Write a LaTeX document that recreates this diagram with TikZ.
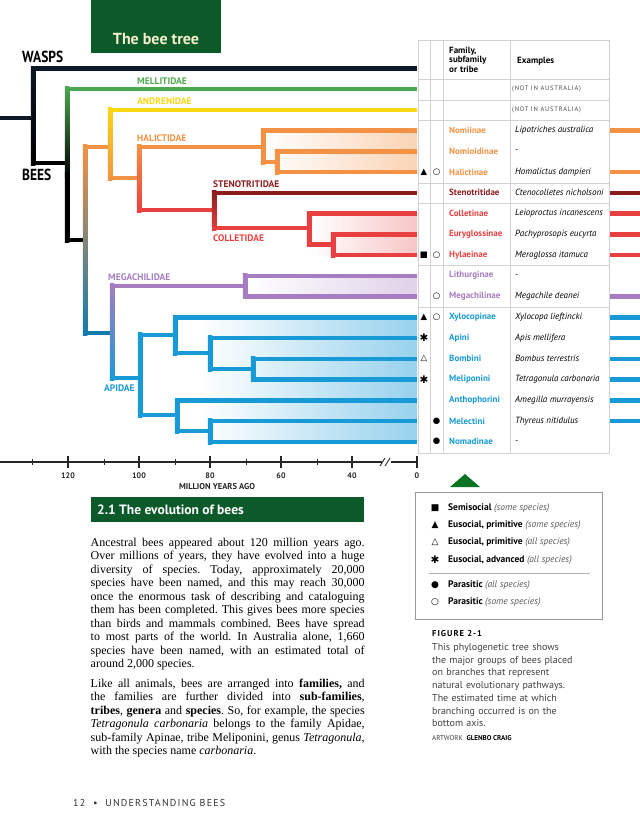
\documentclass[tikz,border=0pt]{standalone}
\usepackage{fontspec}
\setmainfont{Liberation Serif}
\setsansfont{PT Sans}
\newfontfamily\condfont[FakeStretch=0.84]{PT Sans}
\newfontfamily\symfont{DejaVu Sans}
\newfontfamily\spacedfont[LetterSpace=12]{PT Sans}
\usepackage{xcolor}
\definecolor{waspnavy}{RGB}{14,24,38}
\definecolor{mellgreen}{RGB}{76,168,80}
\definecolor{andyellow}{RGB}{250,214,20}
\definecolor{halorange}{RGB}{243,146,68}
\definecolor{stenred}{RGB}{140,28,30}
\definecolor{colred}{RGB}{232,64,64}
\definecolor{megpurple}{RGB}{165,125,192}
\definecolor{apiblue}{RGB}{24,154,214}
\definecolor{beegreen}{RGB}{12,90,42}
\definecolor{titlecream}{RGB}{244,240,204}
\definecolor{gridgray}{RGB}{210,210,210}
\usepackage{tikz}
\usetikzlibrary{positioning}
\frenchspacing

\begin{document}
\begin{tikzpicture}[x=1pt, y=-1pt, line join=miter,
  branch/.style={line width=4.5pt},
  cladelabel/.style={font=\sffamily\bfseries\fontsize{9.5}{10}\selectfont, anchor=west, inner sep=0pt},
  famlabel/.style={font=\sffamily\bfseries\fontsize{9}{10}\selectfont, anchor=west, inner sep=0pt},
  exlabel/.style={font=\sffamily\itshape\fontsize{9}{10}\selectfont, anchor=west, inner sep=0pt},
  symb/.style={font=\symfont\fontsize{8.5}{8}\selectfont, inner sep=0pt},
  star/.style={font=\symfont\fontsize{10.5}{10}\selectfont, inner sep=0pt},
  gridline/.style={draw=gridgray, line width=0.6pt},
  legtext/.style={font=\sffamily\fontsize{9.5}{10}\selectfont, anchor=west, inner sep=0pt},
  ticklabel/.style={font=\sffamily\bfseries\fontsize{8}{8}\selectfont, inner sep=0pt, text=black!85}]
  \useasboundingbox (0,0) rectangle (640,833);

  % title tab
  \fill[beegreen] (91,0) rectangle (221,53);
  \node[font=\sffamily\bfseries\fontsize{16}{16}\selectfont, text=titlecream, inner sep=0pt] (title) at (156,39) {The bee tree};
  \node[font=\condfont\bfseries\fontsize{16}{16}\selectfont, anchor=west, inner sep=0pt] (wasps) at (22,57) {WASPS};
  \node[font=\condfont\bfseries\fontsize{16}{16}\selectfont, anchor=west, inner sep=0pt] (bees) at (22,175) {BEES};

  % shaded clades
  \shade[left color=white, right color=halorange!40] (263,130.5) rectangle (417,172);
  \shade[left color=white, right color=colred!30] (309,213.5) rectangle (417,255);
  \shade[left color=white, right color=megpurple!35] (245,275.75) rectangle (417,296.5);
  \shade[left color=white, right color=apiblue!45] (200,317.25) rectangle (417,441.75);

  % horizontal branches
  \foreach \xa/\xb/\yy/\bcol in {0/33/118/waspnavy, 33/417/68.25/waspnavy, 33/67/163/black,
      67/417/89/mellgreen, 67/85/240/black, 85/110/147/halorange, 110/417/109.75/andyellow,
      110/139/178/halorange, 139/263/147/halorange, 263/417/130.5/halorange, 263/277/162/halorange,
      277/417/151.25/halorange, 277/417/172/halorange,
      139/214/210/colred, 214/417/192.75/stenred, 214/309/228/colred, 309/417/213.5/colred,
      309/333/244.6/colred, 333/417/234.25/colred, 333/417/255/colred,
      85/112/333/apiblue!80!black, 112/245/286/megpurple, 245/417/275.75/megpurple, 245/417/296.5/megpurple,
      112/140/378/apiblue, 140/175/335/apiblue, 175/417/317.25/apiblue, 175/210/353/apiblue,
      210/417/338/apiblue, 210/253/369/apiblue, 253/417/358.75/apiblue, 253/417/379.5/apiblue,
      140/177/415/apiblue, 177/417/400.25/apiblue, 177/210/431/apiblue, 210/417/421/apiblue,
      210/417/441.75/apiblue}
    \draw[branch, draw=\bcol] (\xa,\yy) -- (\xb,\yy);

  % vertical branches
  \foreach \xx/\ya/\yb/\tcol/\bcol in {33/68.25/163/waspnavy/black, 67/89/175/mellgreen/black,
      67/175/240/black/black, 110/109.75/178/andyellow/halorange, 139/147/210/halorange/colred,
      263/130.5/162/halorange/halorange, 277/151.25/172/halorange/halorange,
      214/192.75/228/stenred/colred, 309/213.5/244.6/colred/colred, 333/234.25/255/colred/colred,
      112/286/378/megpurple/apiblue, 245/275.75/296.5/megpurple/megpurple,
      140/335/415/apiblue/apiblue, 175/317.25/353/apiblue/apiblue, 210/338/369/apiblue/apiblue,
      253/358.75/379.5/apiblue/apiblue, 177/400.25/431/apiblue/apiblue, 210/421/441.75/apiblue/apiblue}
    \shade[top color=\tcol, bottom color=\bcol] (\xx-2.25,\ya-2.25) rectangle (\xx+2.25,\yb+2.25);
  \shade[top color=halorange, middle color=black, bottom color=apiblue!80!black] (82.75,144.75) rectangle (87.25,335.25);

  % clade labels
  \node[cladelabel, text=mellgreen] (mellitidae) at (137,81) {MELLITIDAE};
  \node[cladelabel, text=andyellow] (andrenidae) at (137,101) {ANDRENIDAE};
  \node[cladelabel, text=halorange] (halictidae) at (137,138) {HALICTIDAE};
  \node[cladelabel, text=stenred] (stenotritidae) at (213,184) {STENOTRITIDAE};
  \node[cladelabel, text=colred] (colletidae) at (213,238) {COLLETIDAE};
  \node[cladelabel, text=megpurple] (megachilidae) at (108,277) {MEGACHILIDAE};
  \node[cladelabel, text=apiblue] (apidae) at (104,388) {APIDAE};

  % time axis
  \draw[line width=1.3pt, black!85] (0,462) -- (417,462);
  \fill[white] (382,458) rectangle (391,466);
  \draw[line width=0.9pt, black!85] (380,466) -- (385,458) (385,466) -- (390,458);
  \foreach \tx/\tl in {68/120, 139/100, 210/80, 281/60, 352/40, 417/0} {
    \draw[line width=1.6pt, black!85] (\tx,456) -- (\tx,468);
    \node[ticklabel] (tick\tl) at (\tx,476) {\tl};
  }
  \foreach \tx in {32,104,175,246,317}
    \draw[line width=1pt, black!85] (\tx,459) -- (\tx,465);
  \node[ticklabel, font=\sffamily\bfseries\fontsize{8.5}{9}\selectfont] (axistitle) at (217,487) {MILLION YEARS AGO};

  % table
  \draw[gridline] (418,40) rectangle (609,453);
  \foreach \gx in {430,443,510} \draw[gridline] (\gx,40) -- (\gx,453);
  \foreach \gy in {79,100,120,183,203,265,307} \draw[gridline] (418,\gy) -- (609,\gy);
  \node[font=\sffamily\bfseries\fontsize{9}{9.5}\selectfont, text width=58pt, align=left, anchor=base west, inner sep=0pt] (famhead) at (449,53) {Family,\\subfamily\\or tribe};
  \node[font=\sffamily\bfseries\fontsize{9}{9.5}\selectfont, anchor=west, inner sep=0pt] (exhead) at (517,61) {Examples};
  \foreach \i in {0,1}
    \node[font=\spacedfont\fontsize{6.5}{6.5}\selectfont, text=black!70, anchor=west, inner sep=0pt] (notoz\i) at (512,{89+20.75*\i}) {(NOT IN AUSTRALIA)};
  \foreach \famname/\exname/\famcol [count=\i from 2] in {
      Nomiinae/Lipotriches australica/halorange, Nomioidinae/-/halorange,
      Halictinae/Homalictus dampieri/halorange, Stenotritidae/Ctenocolletes nicholsoni/stenred,
      Colletinae/Leioproctus incanescens/colred, Euryglossinae/Pachyprosopis eucyrta/colred,
      Hylaeinae/Meroglossa itamuca/colred, Lithurginae/-/megpurple,
      Megachilinae/Megachile deanei/megpurple, Xylocopinae/Xylocopa lieftincki/apiblue,
      Apini/Apis mellifera/apiblue, Bombini/Bombus terrestris/apiblue,
      Meliponini/Tetragonula carbonaria/apiblue, Anthophorini/Amegilla murrayensis/apiblue,
      Melectini/Thyreus nitidulus/apiblue, Nomadinae/-/apiblue} {
    \node[famlabel, text=\famcol] (fam\i) at (449,{89+20.75*\i}) {\famname};
    \node[exlabel] (ex\i) at (515,{89+20.75*\i}) {\exname};
  }
  \foreach \i/\stubcol in {2/halorange, 4/halorange, 5/stenred, 6/colred, 7/colred, 8/colred,
      10/megpurple, 11/apiblue, 12/apiblue, 13/apiblue, 14/apiblue, 15/apiblue, 16/apiblue}
    \draw[branch, draw=\stubcol] (610,{89+20.75*\i}) -- (640,{89+20.75*\i});

  % behaviour symbols
  \node[symb] (halsoc) at (424,172) {▲};
  \node[symb] (halpar) at (436.5,172) {○};
  \node[symb] (hylsoc) at (424,255) {■};
  \node[symb] (hylpar) at (436.5,255) {○};
  \node[symb] (megpar) at (436.5,296.5) {○};
  \node[symb] (xylsoc) at (424,317.25) {▲};
  \node[symb] (xylpar) at (436.5,317.25) {○};
  \node[star] (apisoc) at (424,338) {✱};
  \node[symb] (bomsoc) at (424,358.75) {△};
  \node[star] (melsoc) at (424,379.5) {✱};
  \node[symb] (mecpar) at (436.5,421) {●};
  \node[symb] (nompar) at (436.5,441.75) {●};

  % legend
  \fill[beegreen!85!green] (450,487) -- (480,487) -- (465,474) -- cycle;
  \draw[draw=black!40, line width=0.6pt] (415,492) rectangle (602,619);
  \draw[draw=black!30, line width=0.6pt] (429,573) -- (590,573);
  \foreach \ly/\lsym/\lbold/\lital [count=\k] in {508/■/Semisocial/some species,
      525/▲/{Eusocial, primitive}/some species, 542/△/{Eusocial, primitive}/all species,
      585/●/Parasitic/all species, 602/○/Parasitic/some species} {
    \node[symb, font=\symfont\fontsize{9}{9}\selectfont] (legsym\k) at (435,\ly) {\lsym};
    \node[legtext] (legtxt\k) at (448,\ly) {\textbf{\lbold} \textcolor{black!65}{\itshape(\lital)}};
  }
  \node[star] (legstar) at (435,560) {✱};
  \node[legtext] (legstartxt) at (448,560) {\textbf{Eusocial, advanced} \textcolor{black!65}{\itshape(all species)}};

  % caption
  \node[font=\spacedfont\bfseries\fontsize{8.5}{9}\selectfont, anchor=base west, inner sep=0pt] (fighead) at (432,636) {FIGURE 2-1};
  \node[font=\sffamily\fontsize{10}{12.7}\selectfont, text=black!75, text width=170pt, align=left, anchor=base west, inner sep=0pt] (figtext) at (432,650.5)
    {This phylogenetic tree shows\\the major groups of bees placed\\on branches that represent\\natural evolutionary pathways.\\The estimated time at which\\branching occurred is on the\\bottom axis.};
  \node[font=\sffamily\fontsize{7}{8}\selectfont, text=black!75, anchor=base west, inner sep=0pt] (artwork) at (432,740)
    {ARTWORK\ \ \textbf{\color{black}GLENBO CRAIG}};

  % section text
  \fill[beegreen] (91,497) rectangle (364,522);
  \node[font=\sffamily\bfseries\fontsize{13.5}{13.5}\selectfont, text=white, anchor=west, inner sep=0pt] (sechead) at (97,510) {2.1 The evolution of bees};
  \node[font=\fontsize{12}{13.5}\selectfont, text width=274pt, align=justify, anchor=base west, inner sep=0pt] (para1) at (90.5,546)
    {Ancestral bees appeared about 120 million years ago.\linebreak
     Over millions of years, they have evolved into a huge\linebreak
     diversity of species. Today, approximately 20,000\linebreak
     species have been named, and this may reach 30,000\linebreak
     once the enormous task of describing and cataloguing\linebreak
     them has been completed. This gives bees more species\linebreak
     than birds and mammals combined. Bees have spread\linebreak
     to most parts of the world. In Australia alone, 1,660\linebreak
     species have been named, with an estimated total of\linebreak
     around 2,000 species.};
  \node[font=\fontsize{12}{13.5}\selectfont, text width=274pt, align=justify, anchor=base west, inner sep=0pt] (para2) at (90.5,687)
    {Like all animals, bees are arranged into \textbf{families,} and\linebreak
     the families are further divided into \textbf{sub-families},\linebreak
     \textbf{tribes}, \textbf{genera} and \textbf{species}. So, for example, the species\linebreak
     \textit{Tetragonula carbonaria} belongs to the family Apidae,\linebreak
     sub-family Apinae, tribe Meliponini, genus \textit{Tetragonula},\linebreak
     with the species name \textit{carbonaria}.};

  % footer
  \node[font=\spacedfont\fontsize{10}{10}\selectfont, text=black!80, anchor=west, inner sep=0pt] (footer) at (73,803) {12\ \ •\ \ UNDERSTANDING BEES};
\end{tikzpicture}
\end{document}
